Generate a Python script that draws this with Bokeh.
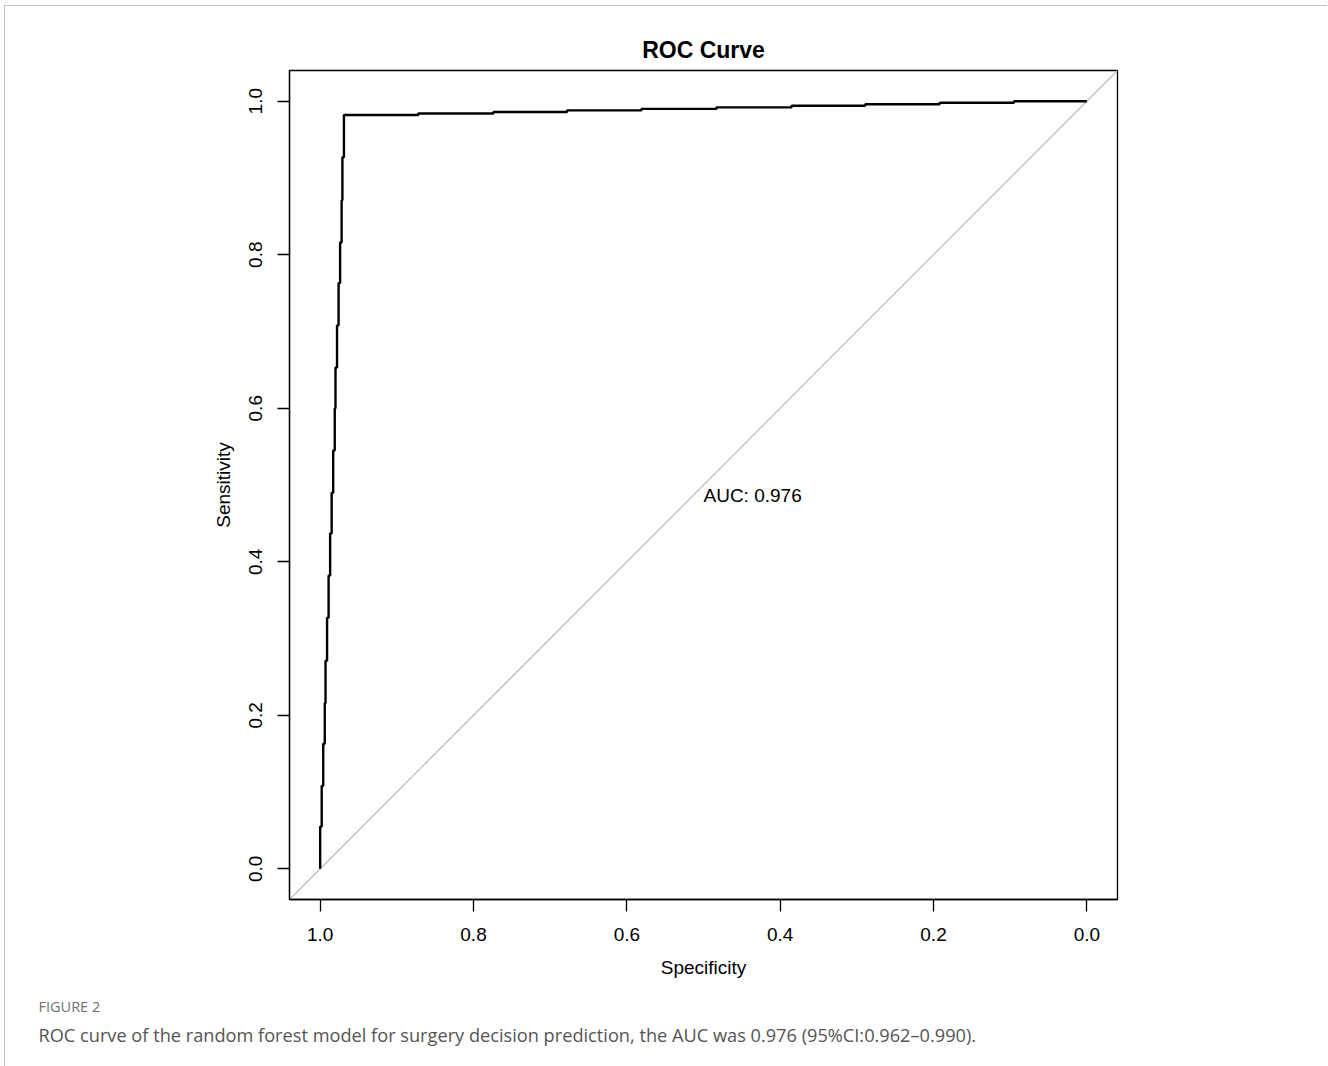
from bokeh.plotting import figure
from bokeh.models import Range1d, FixedTicker, NumeralTickFormatter, Label, Title, InlineStyleSheet
from bokeh.embed import file_html
from bokeh.resources import INLINE

# ---- data ----
# vertical (steep) part of the ROC curve: sensitivity breakpoints and specificity per step
sens_v = [0.000, 0.055, 0.108, 0.163, 0.216, 0.271, 0.327, 0.382, 0.437, 0.490,
          0.545, 0.600, 0.653, 0.708, 0.763, 0.816, 0.871, 0.927, 0.982]
spec_v = [1.000, 0.998, 0.996, 0.994, 0.993, 0.991, 0.989, 0.987, 0.985, 0.983,
          0.981, 0.980, 0.978, 0.976, 0.974, 0.972, 0.971, 0.969]
# flat (top) part: specificity breakpoints and sensitivity per step
spec_h = [0.969, 0.872, 0.774, 0.678, 0.581, 0.483, 0.385, 0.289, 0.192, 0.095, 0.000]
sens_h = [0.982, 0.984, 0.986, 0.988, 0.990, 0.992, 0.994, 0.996, 0.998, 1.000]

tick_values = [0.0, 0.2, 0.4, 0.6, 0.8, 1.0]
auc_text = "AUC: 0.976"
title_text = "ROC Curve"
x_label = "Specificity"
y_label = "Sensitivity"
fig_label = "FIGURE 2"
caption = ("ROC curve of the random forest model for surgery decision prediction, "
           "the AUC was 0.976 (95%CI:0.962\u20130.990).")

# build staircase path
xs, ys = [], []
for k in range(len(spec_v)):
    xs += [spec_v[k], spec_v[k]]
    ys += [sens_v[k], sens_v[k + 1]]
for j in range(len(sens_h)):
    xs += [spec_h[j], spec_h[j + 1]]
    ys += [sens_h[j], sens_h[j]]

FONT = "Liberation Sans"

p = figure(width=1323, height=1061,
           x_range=Range1d(1.04, -0.04), y_range=Range1d(-0.04, 1.04),
           output_backend="svg", toolbar_location=None,
           min_border_left=285, min_border_right=210,
           min_border_top=65, min_border_bottom=167)

p.stylesheets = [InlineStyleSheet(css=":host { margin-left: 4px; margin-top: 5px; outline: 1px solid #b0b0b0; outline-offset: -1px; }")]

p.grid.visible = False
p.background_fill_color = "white"
p.border_fill_color = "white"
p.outline_line_color = "black"
p.outline_line_width = 1.3
p.outline_line_alpha = 1.0

# diagonal reference
p.line([1.04, -0.04], [-0.04, 1.04], line_color="#BEBEBE", line_width=1.3)
# ROC curve
p.line(xs, ys, line_color="black", line_width=2.4)

# title
p.title.text = title_text
p.title.align = "center"
p.title.text_font = FONT
p.title.text_font_size = "23px"
p.title.text_font_style = "bold"
p.title.text_color = "black"
p.title.standoff = 16

for ax in (p.xaxis[0], p.yaxis[0]):
    ax.ticker = FixedTicker(ticks=tick_values)
    ax.formatter = NumeralTickFormatter(format="0.0")
    ax.major_tick_in = 0
    ax.major_tick_out = 12
    ax.minor_tick_line_color = None
    ax.major_tick_line_color = "black"
    ax.major_tick_line_width = 1.3
    ax.axis_line_color = "black"
    ax.axis_line_width = 1.3
    ax.major_label_text_font = FONT
    ax.major_label_text_font_size = "19px"
    ax.major_label_text_color = "black"
    ax.axis_label_text_font = FONT
    ax.axis_label_text_font_size = "19px"
    ax.axis_label_text_font_style = "normal"
    ax.axis_label_text_color = "black"

p.xaxis[0].axis_label = x_label
p.xaxis[0].major_label_standoff = 16
p.xaxis[0].axis_label_standoff = 13
p.yaxis[0].axis_label = y_label
p.yaxis[0].major_label_orientation = "vertical"
p.yaxis[0].major_label_standoff = 15
p.yaxis[0].axis_label_standoff = 13

p.add_layout(Label(x=0.5, y=0.5, text=auc_text, text_align="left", text_baseline="top",
                   text_font=FONT, text_font_size="19px", text_color="black"))

# figure caption below the chart
p.add_layout(Title(text=fig_label, align="left", offset=-251, standoff=28,
                   text_font="Open Sans", text_font_size="14.5px", text_font_style="normal",
                   text_color="#707070"), "below")
p.add_layout(Title(text=caption, align="left", offset=-251, standoff=-17,
                   text_font="Open Sans", text_font_size="18.2px", text_font_style="normal",
                   text_color="#555555"), "below")

open("out.html", "w").write(file_html(p, INLINE))
